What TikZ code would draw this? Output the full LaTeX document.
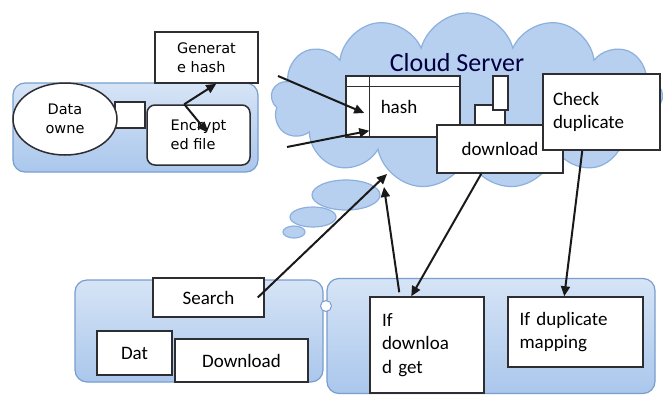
\documentclass[tikz,border=0pt]{standalone}
\usepackage{fontspec}
\setmainfont{Carlito}
\newfontfamily\vfont{DejaVu Sans}
\usetikzlibrary{shapes.geometric,shapes.symbols,arrows.meta,calc}
\definecolor{panelTop}{RGB}{214,228,246}
\definecolor{panelBot}{RGB}{170,199,236}
\definecolor{panelLine}{RGB}{120,158,206}
\definecolor{cloudFill}{RGB}{184,208,239}
\definecolor{cloudLine}{RGB}{140,176,222}
\definecolor{boxLine}{RGB}{45,45,50}
\tikzset{%
  panel/.style   = {shape=rectangle, rounded corners=12pt, draw=panelLine,%
                    line width=1.2pt, top color=panelTop, bottom color=panelBot},%
  wbox/.style    = {shape=rectangle, draw=boxLine, fill=white, line width=1.5pt,%
                    inner sep=0pt, font=\fontsize{19}{23.5}\selectfont},%
  vbox/.style    = {wbox, font=\vfont\fontsize{14.5}{19}\selectfont, align=left},%
  puff/.style    = {ellipse, draw=cloudLine, fill=cloudFill, line width=1.2pt},%
  arr/.style     = {-{Triangle[length=10pt,width=9pt]}, line width=2pt, black!90}%
}
\begin{document}
\begin{tikzpicture}[x=1pt,y=-1pt]
	\useasboundingbox (0,0) rectangle (663,394);
	% data owner side
	\node [panel, minimum width=245, minimum height=89] (owner box) at (135.5,127.5) {};
	\node [wbox, minimum width=30, minimum height=26] (link) at (130,115) {};
	\node [vbox, ellipse, minimum width=104, minimum height=72, align=center] (owner) at (65,119) {Data\\owne};
	\node [vbox, rounded corners=8pt, minimum width=103, minimum height=60] (enc) at (198.5,135) {Encrypt\\ed file};
	\node [vbox, minimum width=103, minimum height=51] (gen) at (206.5,57.5) {Generat\\e hash};
	\coordinate (split) at ($(enc.north west)+(38,0)$);
	\draw [arr] (split) -- ($(gen.south west)+(62,0)$);
	\draw [arr] (split) -- ($(enc.north west)+(61,28)$);
	% the cloud
	\node [puff, minimum width=22, minimum height=12] (tail3) at (294,232) {};
	\node [puff, minimum width=46, minimum height=20] (tail2) at (313,217) {};
	\node [puff, minimum width=68, minimum height=30] (tail1) at (346,195) {};
	\node [cloud, cloud puffs=13, cloud ignores aspect, draw=cloudLine, fill=cloudFill,
		line width=1.2pt, minimum width=392, minimum height=176] (cloud) at (467,101) {};
	\node [font=\fontsize{26}{30}\selectfont, text=black!75!blue] (title) at (457,63) {Cloud Server};
	\node [wbox, minimum width=114, minimum height=61] (hash) at (403,106.5) {\hspace*{-8pt}hash};
	\draw [boxLine, line width=1.5pt] ($(hash.north west)+(0,11)$) -- ($(hash.north east)+(0,11)$);
	\draw [boxLine, line width=1.5pt] ($(hash.north west)+(24,0)$) -- ($(hash.south west)+(24,0)$);
	\node [wbox, minimum width=30, minimum height=22] (store) at (490,116) {};
	\node [wbox, minimum width=15, minimum height=34] (store top) at (500.5,93) {};
	\node [wbox, minimum width=126, minimum height=48] (download) at (500,149) {download};
	\node [wbox, minimum width=117, minimum height=76, align=left, text width=97] (check) at (601.5,112) {Check\\duplicate};
	\coordinate (in1) at (278,76);
	\coordinate (in2) at (287,147);
	\draw [arr] (in1) -- ($(hash.west)+(19,6.5)$);
	\draw [arr] (in2) -- ($(hash.south west)+(24,-7)$);
	% user side
	\node [panel, minimum width=248, minimum height=102] (user box) at (199,331) {};
	\node [wbox, minimum width=111, minimum height=39] (search) at (208.5,297.5) {Search};
	\node [wbox, minimum width=75, minimum height=44] (dat) at (134.5,353) {Dat};
	\node [wbox, minimum width=133, minimum height=43] (dl) at (241.5,360.5) {Download};
	\node [panel, minimum width=328, minimum height=115] (dedup box) at (491,336) {};
	\node [circle, draw=panelLine, fill=white, line width=1pt, minimum size=11pt, inner sep=0pt] (joint) at (326,306) {};
	\node [wbox, minimum width=114, minimum height=96, align=left, text width=90] (dlget) at (427,345) {If\\downloa\\d get};
	\node [wbox, minimum width=135, minimum height=70, align=left, text width=112] (dupmap) at (575.5,332) {If duplicate\\mapping};
	% requests and replies
	\coordinate (cin) at (387,174);
	\coordinate (cup) at (384,187);
	\draw [arr] ($(search.east)+(-7,0)$) -- (cin);
	\draw [arr] ($(dlget.north west)+(30,-4)$) -- (cup);
	\draw [arr] ($(download.south west)+(45,0)$) -- ($(dlget.north west)+(42,0)$);
	\draw [arr] ($(check.south west)+(40,0)$) -- ($(dupmap.north west)+(57,0)$);
\end{tikzpicture}
\end{document}
